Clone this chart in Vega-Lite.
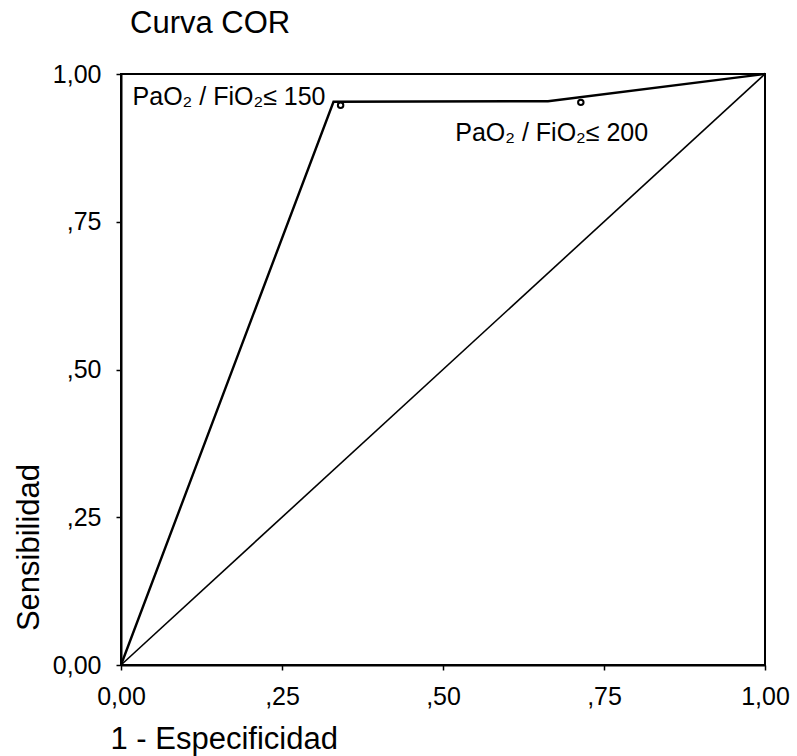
{
  "$schema": "https://vega.github.io/schema/vega-lite/v6.json",
  "width": 644,
  "height": 591,
  "autosize": "none",
  "padding": {"left": 121, "top": 74, "right": 32, "bottom": 91},
  "background": "white",
  "config": {
    "font": "Liberation Sans",
    "view": {"stroke": "black", "strokeWidth": 2},
    "axis": {"grid": false, "domain": true, "domainColor": "black", "domainWidth": 2, "tickColor": "black", "tickSize": 5, "tickWidth": 1.5, "labelColor": "black", "labelFontSize": 25, "titleColor": "black", "titleFontWeight": "normal", "labelFlush": false}
  },
  "title": {"text": "Curva COR", "anchor": "start", "frame": "group", "fontSize": 31, "fontWeight": "normal", "color": "black", "dx": 9, "offset": 26, "dy": 28, "baseline": "alphabetic"},
  "datasets": {
    "roc": [
      {"x": 0, "y": 0, "o": 0},
      {"x": 0.33, "y": 0.953, "o": 1},
      {"x": 0.663, "y": 0.954, "o": 2},
      {"x": 1, "y": 1, "o": 3}
    ],
    "diag": [
      {"x": 0, "y": 0},
      {"x": 1, "y": 1}
    ],
    "pts": [
      {"x": 0.341, "y": 0.947},
      {"x": 0.714, "y": 0.952}
    ],
    "labels": [
      {"x": 0.018, "y": 0.961, "t": "PaO₂ / FiO₂≤ 150"},
      {"x": 0.519, "y": 0.9, "t": "PaO₂ / FiO₂≤ 200"}
    ]
  },
  "layer": [
    {
      "data": {"name": "diag"},
      "mark": {"type": "line", "color": "black", "strokeWidth": 1.6},
      "encoding": {
        "x": {"field": "x", "type": "quantitative", "scale": {"domain": [0, 1], "nice": false},
          "axis": {"values": [0, 0.25, 0.5, 0.75, 1], "labelFlush": false, "labelPadding": 14, "labelExpr": "datum.value == 0 ? '0,00' : datum.value == 1 ? '1,00' : ',' + substring(format(datum.value, '.2f'), 2)",
            "title": "1 - Especificidad", "titleFontSize": 31, "titleAnchor": "start", "titleAlign": "left", "titleX": -11, "titleY": 74, "titleBaseline": "middle"}},
        "y": {"field": "y", "type": "quantitative", "scale": {"domain": [0, 1], "nice": false},
          "axis": {"values": [0, 0.25, 0.5, 0.75, 1], "labelFlush": false, "labelPadding": 15, "labelExpr": "datum.value == 0 ? '0,00' : datum.value == 1 ? '1,00' : ',' + substring(format(datum.value, '.2f'), 2)",
            "title": "Sensibilidad", "titleFontSize": 31, "titleAngle": -90, "titleAlign": "center", "titleBaseline": "middle", "titleX": -92, "titleY": 473}}
      }
    },
    {
      "data": {"name": "roc"},
      "mark": {"type": "line", "color": "black", "strokeWidth": 2.4},
      "encoding": {
        "x": {"field": "x", "type": "quantitative"},
        "y": {"field": "y", "type": "quantitative"},
        "order": {"field": "o"}
      }
    },
    {
      "data": {"name": "pts"},
      "mark": {"type": "point", "shape": "circle", "filled": false, "color": "black", "size": 30, "strokeWidth": 2, "opacity": 1},
      "encoding": {
        "x": {"field": "x", "type": "quantitative"},
        "y": {"field": "y", "type": "quantitative"}
      }
    },
    {
      "data": {"name": "labels"},
      "mark": {"type": "text", "align": "left", "baseline": "middle", "fontSize": 25, "color": "black"},
      "encoding": {
        "x": {"field": "x", "type": "quantitative"},
        "y": {"field": "y", "type": "quantitative"},
        "text": {"field": "t"}
      }
    }
  ]
}
